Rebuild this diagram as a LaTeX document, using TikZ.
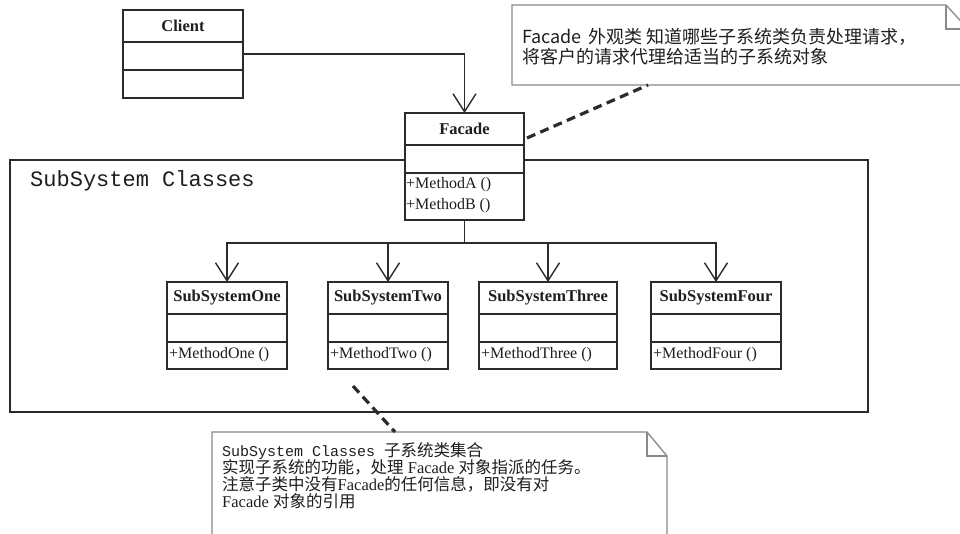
\documentclass[tikz,border=0pt]{standalone}
\usepackage{fontspec}
\setmainfont{Liberation Serif}
\newfontfamily\cjkf{Noto Sans CJK SC}
\newfontfamily\monof{Liberation Mono}
\usetikzlibrary{arrows.meta,calc}
\definecolor{boxc}{HTML}{2B2B2B}
\definecolor{notec}{HTML}{8A8A8A}
\definecolor{txtc}{HTML}{1E1E1E}
\begin{document}
\begin{tikzpicture}[x=1pt,y=-1pt,
 sec/.style={draw=boxc,line width=1.6pt,fill=white,rectangle,inner sep=0pt,outer sep=0pt,anchor=north west,text=txtc},
 ttl/.style={font=\fontsize{16.5}{18}\selectfont\bfseries},
 mth/.style={font=\fontsize{16}{18}\selectfont,inner sep=0pt,anchor=base west,text=txtc},
 arr/.style={draw=boxc,line width=1.4pt,-{Straight Barb[length=18pt,width=23pt]}},
 ln/.style={draw=boxc,line width=1.4pt},
 notebox/.style={draw=notec,line width=1.3pt,fill=white},
 notefold/.style={draw=notec,line width=1.3pt},
 notetxt/.style={inner sep=0pt,anchor=base west,text=txtc},
 lowtxt/.style={notetxt,font=\fontsize{16.5}{16}\selectfont},
 dashc/.style={draw=boxc,line width=3.2pt,dash pattern=on 9pt off 5.5pt}
]
\clip (0,0) rectangle (960,533);
\fill[white] (0,0) rectangle (960,533);

% container
\node[draw=boxc,line width=1.6pt,rectangle,inner sep=0pt,outer sep=0pt,anchor=north west,minimum width=858pt,minimum height=252pt] (subsys) at (10,160) {};
\node[anchor=base west,inner sep=0pt,font=\monof\fontsize{22}{24}\selectfont,text=txtc] (sslabel) at (30,186) {SubSystem Classes};

% Client
\node[sec,ttl,minimum width=120pt,minimum height=32pt] (clientT) at (123,10) {Client};
\node[sec,minimum width=120pt,minimum height=28pt] (clientA) at (123,42) {};
\node[sec,minimum width=120pt,minimum height=28pt] (clientM) at (123,70) {};

% Facade
\node[sec,ttl,minimum width=119pt,minimum height=32pt] (facadeT) at (405,113) {Facade};
\node[sec,minimum width=119pt,minimum height=28pt] (facadeA) at (405,145) {};
\node[sec,minimum width=119pt,minimum height=47pt] (facadeM) at (405,173) {};
\node[mth] (fmA) at (406,188.5) {+MethodA ()};
\node[mth] (fmB) at (406,209.5) {+MethodB ()};

% Subsystems
\node[sec,ttl,minimum width=120pt,minimum height=32pt] (s1T) at (167,282) {SubSystemOne};
\node[sec,minimum width=120pt,minimum height=28pt] (s1A) at (167,314) {};
\node[sec,minimum width=120pt,minimum height=27pt] (s1M) at (167,342) {};
\node[mth] (s1m) at (169,358.5) {+MethodOne ()};

\node[sec,ttl,minimum width=120pt,minimum height=32pt] (s2T) at (328,282) {SubSystemTwo};
\node[sec,minimum width=120pt,minimum height=28pt] (s2A) at (328,314) {};
\node[sec,minimum width=120pt,minimum height=27pt] (s2M) at (328,342) {};
\node[mth] (s2m) at (330,358.5) {+MethodTwo ()};

\node[sec,ttl,minimum width=138pt,minimum height=32pt] (s3T) at (479,282) {SubSystemThree};
\node[sec,minimum width=138pt,minimum height=28pt] (s3A) at (479,314) {};
\node[sec,minimum width=138pt,minimum height=27pt] (s3M) at (479,342) {};
\node[mth] (s3m) at (481,358.5) {+MethodThree ()};

\node[sec,ttl,minimum width=130pt,minimum height=32pt] (s4T) at (651,282) {SubSystemFour};
\node[sec,minimum width=130pt,minimum height=28pt] (s4A) at (651,314) {};
\node[sec,minimum width=130pt,minimum height=27pt] (s4M) at (651,342) {};
\node[mth] (s4m) at (653,358.5) {+MethodFour ()};

% connectors
\draw[arr] ($(clientA.north east)!0.43!(clientA.south east)$) -| (facadeT.north);
\draw[arr] (facadeM.south) |- ++(0,23) -| (s1T.north);
\draw[arr] (facadeM.south) |- ++(0,23) -| (s2T.north);
\draw[arr] (facadeM.south) |- ++(0,23) -| (s3T.north);
\draw[arr] (facadeM.south) |- ++(0,23) -| (s4T.north);

% upper note
\node[inner sep=0pt,outer sep=0pt,anchor=north west,minimum width=456pt,minimum height=80pt] (note1) at (512,5) {};
\draw[notebox] (note1.north west) -- ++(434,0) -- ++(22,24) -- (note1.south east) -- (note1.south west) -- cycle;
\draw[notefold] ($(note1.north west)+(434,0)$) -- ++(0,24) -- ++(22,0);
\node[notetxt,font=\cjkf\fontsize{18}{20}\selectfont] (n1l1) at (522,43.5) {Facade\hspace{7pt}外观类 知道哪些子系统类负责处理请求，};
\node[notetxt,font=\cjkf\fontsize{18}{20}\selectfont] (n1l2) at (522,63.5) {将客户的请求代理给适当的子系统对象};

% lower note
\node[inner sep=0pt,outer sep=0pt,anchor=north west,minimum width=455pt,minimum height=120pt] (note2) at (212,432) {};
\draw[notebox] (note2.north west) -- ++(435,0) -- ++(20,24) -- (note2.south east) -- (note2.south west) -- cycle;
\draw[notefold] ($(note2.north west)+(435,0)$) -- ++(0,24) -- ++(20,0);
\node[lowtxt] (n2l1) at (222,456) {{\monof\fontsize{15}{16}\selectfont SubSystem Classes }{\cjkf 子系统类集合}};
\node[lowtxt] (n2l2) at (222,473) {{\cjkf 实现子系统的功能，处理} Facade {\cjkf 对象指派的任务。}};
\node[lowtxt] (n2l3) at (222,490) {{\cjkf 注意子类中没有}Facade{\cjkf 的任何信息，即没有对}};
\node[lowtxt] (n2l4) at (222,507) {Facade {\cjkf 对象的引用}};

% dashed note links
\coordinate (fd1) at ($(facadeT.north east)+(3,25)$);
\coordinate (fd2) at ($(note1.south west)+(136,0)$);
\draw[dashc] (fd1) -- (fd2);
\coordinate (sd1) at (353,386);
\coordinate (sd2) at ($(note2.north west)+(183,0)$);
\draw[dashc] (sd1) -- (sd2);
\end{tikzpicture}
\end{document}
